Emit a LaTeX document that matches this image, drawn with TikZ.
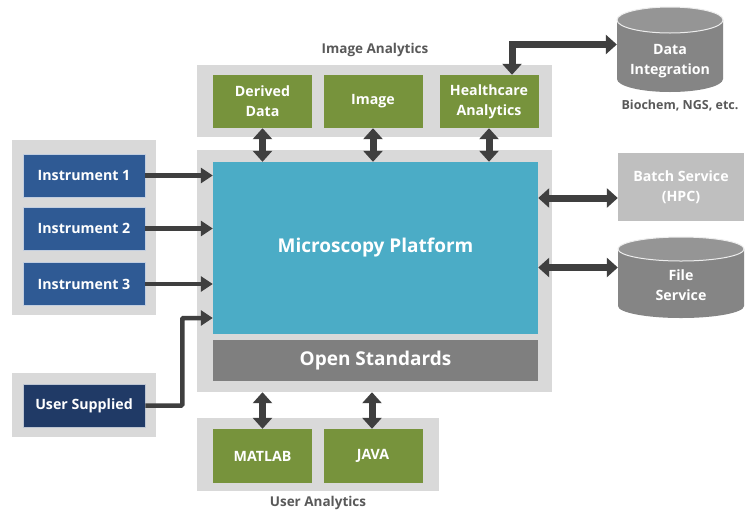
\documentclass[tikz,border=0pt]{standalone}
\usepackage{fontspec}
\setmainfont{Open Sans}
\usetikzlibrary{arrows.meta,calc}
\definecolor{panelgray}{HTML}{D9D9D9}
\definecolor{leafgreen}{HTML}{77933C}
\definecolor{platblue}{HTML}{4BACC6}
\definecolor{instblue}{HTML}{2F5A94}
\definecolor{navy}{HTML}{203A66}
\definecolor{stdgray}{HTML}{7F7F7F}
\definecolor{batchgray}{HTML}{BFBFBF}
\definecolor{drumgray}{HTML}{858585}
\definecolor{drumtop}{HTML}{959595}
\definecolor{arrowgray}{HTML}{3F3F3F}
\definecolor{labelgray}{HTML}{595959}
\tikzset{
  panel/.style={fill=panelgray, draw=none, inner sep=0pt},
  card/.style={draw=none, inner sep=0pt, text=white, align=center,
    font=\bfseries\fontsize{14.2}{20}\selectfont},
  greencard/.style={card, fill=leafgreen, minimum width=99pt, minimum height=53pt},
  instcard/.style={card, fill=instblue, draw=white!70!instblue, line width=0.6pt,
    minimum width=122pt, minimum height=43pt},
  caption/.style={text=labelgray, font=\bfseries\fontsize{13.5}{16}\selectfont},
  duplex/.style={draw=arrowgray, line width=7pt,
    {Triangle[length=11pt,width=19pt]}-{Triangle[length=11pt,width=19pt]}},
  feed/.style={draw=arrowgray, line width=4.5pt, -{Triangle[length=12pt,width=15pt]}},
  drumbody/.style={fill=drumgray, draw=none},
  drumlid/.style={fill=drumtop, draw=white!85!drumgray, line width=1pt},
}
\begin{document}
\begin{tikzpicture}[x=1pt,y=-1pt]
\useasboundingbox[fill=white] (0,0) rectangle (749,512);

% background panels
\node[panel, minimum width=355pt, minimum height=72pt] (iapanel) at (374.5,101) {};
\node[panel, minimum width=355pt, minimum height=242pt] (mainpanel) at (374.5,271) {};
\node[panel, minimum width=144pt, minimum height=175pt] (instpanel) at (84,227.5) {};
\node[panel, minimum width=144pt, minimum height=64pt] (uspanel) at (84,405) {};
\node[panel, minimum width=242pt, minimum height=73pt] (uapanel) at (318,454.5) {};

% panel captions
\node[caption] (iacap) at (375,50) {Image Analytics};
\node[caption] (uacap) at (318,503) {User Analytics};
\node[caption, font=\bfseries\fontsize{12.5}{15}\selectfont] (bio) at (680,106) {Biochem, NGS, etc.};

% image analytics cards
\node[greencard] (dd) at (262.5,101.5) {Derived\\Data};
\node[greencard] (img) at (373,101.5) {Image};
\node[greencard] (ha) at (489,101.5) {Healthcare\\Analytics};

% platform core
\node[card, fill=platblue, minimum width=325pt, minimum height=172pt,
  font=\bfseries\fontsize{19}{22}\selectfont] (mp) at (375.5,248) {Microscopy Platform};
\node[card, fill=stdgray, minimum width=325pt, minimum height=41pt,
  font=\bfseries\fontsize{19}{22}\selectfont] (os) at (375.5,360.5) {Open Standards};

% user analytics cards
\node[greencard, minimum height=54pt] (mat) at (262.5,456) {MATLAB};
\node[greencard, minimum height=54pt] (java) at (373,456) {JAVA};

% instruments
\node[instcard] (i1) at (84,175.5) {Instrument 1};
\node[instcard] (i2) at (84,228.5) {Instrument 2};
\node[instcard] (i3) at (84,284) {Instrument 3};
\node[instcard, fill=navy, draw=white!70!navy] (us) at (84,405.5) {User Supplied};

% batch service
\node[card, fill=batchgray, minimum width=126pt, minimum height=68pt] (bs) at (681,187)
  {Batch Service\\(HPC)};

% data integration drum
\fill[drumbody] (617,20) -- (617,79) arc[start angle=180, end angle=360, x radius=53pt, y radius=13pt]
  -- (723,20) -- cycle;
\draw[drumlid] (670,20) ellipse[x radius=53pt, y radius=13pt];
\node[card, minimum width=106pt, minimum height=85pt] (di) at (670,49.5) {};
\node[card] (ditext) at (670,61) {Data\\Integration};

% file service drum
\fill[drumbody] (618,249) -- (618,306) arc[start angle=180, end angle=360, x radius=63pt, y radius=12pt]
  -- (744,249) -- cycle;
\draw[drumlid] (681,249) ellipse[x radius=63pt, y radius=12pt];
\node[card, minimum width=126pt, minimum height=81pt] (fs) at (681,277.5) {};
\node[card] (fstext) at (681,285) {File\\Service};

% links between analytics cards and the platform
\draw[duplex] (dd.south) -- (dd.south |- mp.north);
\draw[duplex] (img.south) -- (img.south |- mp.north);
\draw[duplex] (ha.south) -- (ha.south |- mp.north);
\draw[duplex] ([xshift=23pt]ha.north) |- ([yshift=5pt]di.west);

% links to user analytics
\draw[duplex] (mat.north |- mainpanel.south) -- (mat.north);
\draw[duplex] ([xshift=-1pt]java.north |- mainpanel.south) -- ([xshift=-1pt]java.north);

% links to services
\draw[duplex] ([yshift=-11pt]mp.east |- bs.west) -- ([yshift=-11pt]bs.west);
\draw[duplex] ([yshift=10pt]mp.east |- fs.west) -- ([yshift=10pt]fs.west);

% instrument feeds
\draw[feed] (i1.east) -- (i1.east -| mp.west);
\draw[feed] (i2.east) -- (i2.east -| mp.west);
\draw[feed] (i3.east) -- (i3.east -| mp.west);
\draw[feed, rounded corners=1pt] (us.east) -- ++(37,0) |- ([yshift=-70pt]mp.west);
\end{tikzpicture}
\end{document}
